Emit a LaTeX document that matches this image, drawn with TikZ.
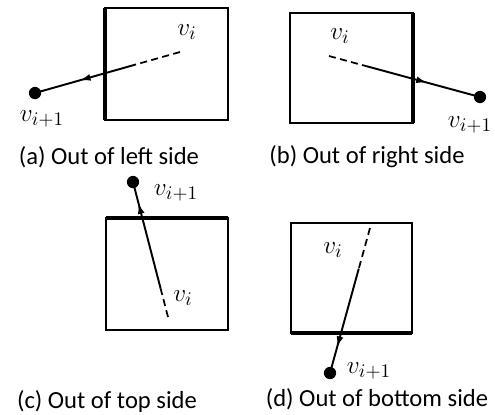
\documentclass[tikz,border=0pt]{standalone}
\usepackage{fontspec}
\setmainfont{Carlito}
\usetikzlibrary{calc,arrows.meta,decorations.markings}
\begin{document}
\begin{tikzpicture}[x=0.02cm,y=-0.02cm,
  frame/.style={line width=1.2pt},
  edge/.style={line width=2.6pt},
  trail/.style={line width=1pt,dash pattern=on 4pt off 2.5pt},
  hop/.style={line width=1.1pt,postaction={decorate},
    decoration={markings,mark=at position #1 with {\arrow{Latex[length=6pt,width=4pt]}}}},
  vtx/.style={circle,fill,inner sep=0pt,minimum size=7pt},
  lbl/.style={font=\fontsize{15}{17}\selectfont,inner sep=1pt},
  caption/.style={font=\fontsize{14}{16}\selectfont,inner sep=0pt}]
  \useasboundingbox (0,0) rectangle (495,414);
  % (a) out of left side
  \draw[frame] (105,8) rectangle (228,120);
  \draw[edge] (105,8) -- (105,120);
  \coordinate (a-vi) at (180,52);
  \node[vtx] (a-nxt) at (35,93) {};
  \coordinate (a-brk) at ($(a-vi)!0.31!(a-nxt)$);
  \draw[trail] (a-vi) -- (a-brk);
  \draw[hop=0.55] (a-brk) -- (a-nxt.center);
  \node[lbl] (a-vil) at (187,32) {$v_i$};
  \node[lbl] (a-nxtl) at (42,119) {$v_{i+1}$};
  \node[caption] (a-cap) at (109,157) {(a) Out of left side};
  % (b) out of right side
  \draw[frame] (290,13) rectangle (413,123);
  \draw[edge] (413,13) -- (413,123);
  \coordinate (b-vi) at (329,56);
  \node[vtx] (b-nxt) at (480,97) {};
  \coordinate (b-brk) at ($(b-vi)!0.25!(b-nxt)$);
  \draw[trail] (b-vi) -- (b-brk);
  \draw[hop=0.53] (b-brk) -- (b-nxt.center);
  \node[lbl] (b-vil) at (340,36) {$v_i$};
  \node[lbl] (b-nxtl) at (470,125) {$v_{i+1}$};
  \node[caption] (b-cap) at (367,157) {(b) Out of right side};
  % (c) out of top side
  \draw[frame] (106,218) rectangle (228,330);
  \draw[edge] (106,218) -- (228,218);
  \coordinate (c-vi) at (168,317);
  \node[vtx] (c-nxt) at (133,182) {};
  \coordinate (c-brk) at ($(c-vi)!0.21!(c-nxt)$);
  \draw[trail] (c-vi) -- (c-brk);
  \draw[hop=0.8] (c-brk) -- (c-nxt.center);
  \node[lbl] (c-vil) at (183,298) {$v_i$};
  \node[lbl] (c-nxtl) at (176,193) {$v_{i+1}$};
  \node[caption] (c-cap) at (107,401) {(c) Out of top side};
  % (d) out of bottom side
  \draw[frame] (291,223) rectangle (412,333);
  \draw[edge] (291,333) -- (412,333);
  \coordinate (d-vi) at (370,228);
  \node[vtx] (d-nxt) at (330,373) {};
  \coordinate (d-brk) at ($(d-vi)!0.28!(d-nxt)$);
  \draw[trail] (d-vi) -- (d-brk);
  \draw[hop=0.75] (d-brk) -- (d-nxt.center);
  \node[lbl] (d-vil) at (333,250) {$v_i$};
  \node[lbl] (d-nxtl) at (369,371) {$v_{i+1}$};
  \node[caption] (d-cap) at (377,399) {(d) Out of bottom side};
\end{tikzpicture}
\end{document}
